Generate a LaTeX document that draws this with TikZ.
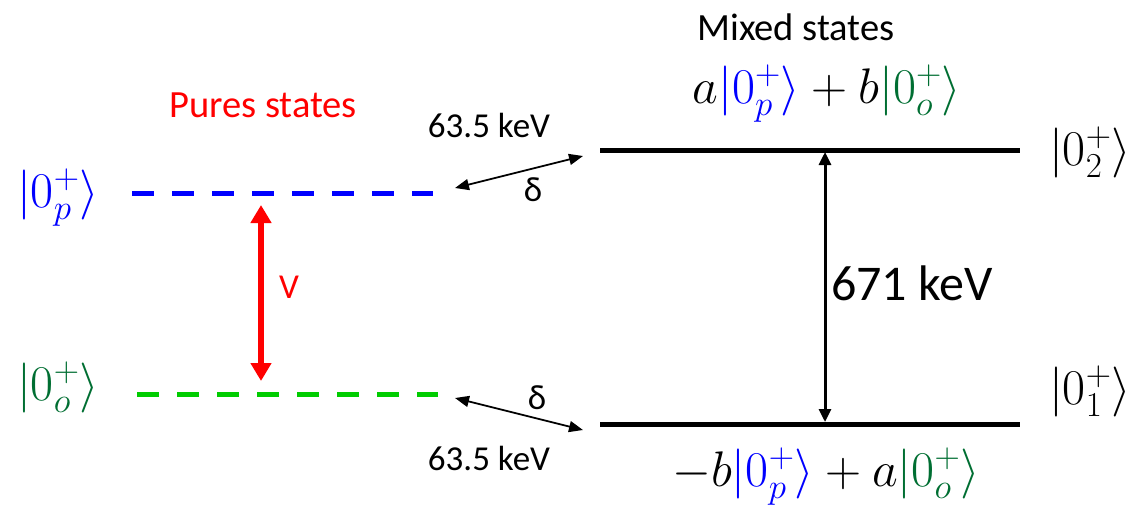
\RequirePackage{fix-cm}
\documentclass[tikz,border=0pt]{standalone}
\usepackage{fontspec}
\setmainfont{Carlito}
\usetikzlibrary{arrows.meta}
\definecolor{pureblue}{RGB}{0,0,255}
\definecolor{puregreen}{RGB}{0,204,0}
\definecolor{ketgreen}{RGB}{0,110,50}
\definecolor{purered}{RGB}{255,0,0}
\newcommand{\ketp}{\textcolor{pureblue}{|0_p^+\rangle}}
\newcommand{\keto}{\textcolor{ketgreen}{|0_o^+\rangle}}
\tikzset{
  lbl/.style={inner sep=0pt, font=\fontsize{35}{40}\selectfont},
  head/.style={inner sep=0pt, font=\fontsize{38.5}{44}\selectfont},
  mth/.style={inner sep=0pt, anchor=base, font=\fontsize{50}{58}\selectfont},
  purelevel/.style={line width=5pt, dash pattern=on 22pt off 18pt},
  mixlevel/.style={line width=5pt, draw=black},
  shift arrow/.style={line width=1.8pt, {Triangle[width=11pt,length=14pt]}-{Triangle[width=11pt,length=14pt]}},
}
\begin{document}
\begin{tikzpicture}[x=1pt,y=-1pt]
\useasboundingbox (0,0) rectangle (1138,507);

% headings
\node[head, text=purered] (pure) at (263,105) {Pures states};
\node[head] (mixed) at (796,27) {Mixed states};

% pure (unmixed) levels
\coordinate (p1) at (132,193);
\coordinate (p2) at (433,193);
\coordinate (o1) at (137,394);
\coordinate (o2) at (438,394);
\draw[purelevel, draw=pureblue] (p1) -- (p2);
\draw[purelevel, draw=puregreen] (o1) -- (o2);
\node[mth] (kp) at (58,207) {$\ketp$};
\node[mth] (ko) at (58,400) {$\keto$};

% mixing potential
\coordinate (v1) at (261,205);
\coordinate (v2) at (261,381);
\draw[purered, line width=5.5pt, {Triangle[width=20pt,length=18pt]}-{Triangle[width=20pt,length=18pt]}] (v1) -- (v2);
\node[lbl, text=purered] (V) at (289,287) {V};

% mixed levels
\coordinate (m2a) at (600,150);
\coordinate (m2b) at (1020,150);
\coordinate (m1a) at (600,424);
\coordinate (m1b) at (1020,424);
\draw[mixlevel] (m2a) -- (m2b);
\draw[mixlevel] (m1a) -- (m1b);
\node[mth] (k2) at (1090,165) {$|0_2^+\rangle$};
\node[mth] (k1) at (1090,404) {$|0_1^+\rangle$};
\node[mth] (top) at (827,103) {$a\ketp + b\keto$};
\node[mth] (bot) at (826,486) {$-b\ketp + a\keto$};

% energy gap
\coordinate (g2) at (825,152);
\coordinate (g1) at (825,422);
\draw[line width=3pt, {Triangle[width=12pt,length=13pt]}-{Triangle[width=12pt,length=13pt]}] (g2) -- (g1);
\node[lbl, font=\fontsize{50}{56}\selectfont] (gap) at (912,283) {671 keV};

% level shifts
\coordinate (s1a) at (455,188);
\coordinate (s1b) at (583,156);
\coordinate (s2a) at (455,398);
\coordinate (s2b) at (583,430);
\draw[shift arrow] (s1a) -- (s1b);
\draw[shift arrow] (s2a) -- (s2b);
\node[lbl] (d1) at (533,190) {δ};
\node[lbl] (d2) at (537,398) {δ};
\node[lbl] (e1) at (489,125) {63.5 keV};
\node[lbl] (e2) at (489,458) {63.5 keV};
\end{tikzpicture}
\end{document}
